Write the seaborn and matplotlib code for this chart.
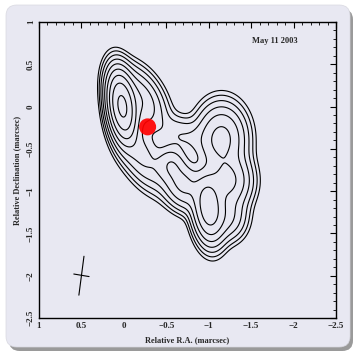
import numpy as np
import matplotlib
matplotlib.use("Agg")
import matplotlib.pyplot as plt
from matplotlib.patches import FancyBboxPatch
from matplotlib.ticker import MultipleLocator, FixedLocator
import seaborn as sns

# ---- data ----
# source model components: x, y (marcsec), amplitude, sigma major, sigma minor, PA (deg)
comp_x = [0.02, -0.18, -0.20, -0.55, -0.70, -1.15, -1.23, -1.00, -0.70, -1.22]
comp_y = [0.00, 0.08, -0.55, -0.68, -0.35, -0.38, -0.88, -1.19, -0.92, -1.30]
comp_amp = [0.60, 0.06, 0.04, 0.05, 0.015, 0.08, 0.075, 0.20, 0.075, 0.035]
comp_smaj = [0.205, 0.22, 0.25, 0.12, 0.22, 0.21, 0.17, 0.21, 0.16, 0.15]
comp_smin = [0.08, 0.13, 0.12, 0.10, 0.12, 0.15, 0.14, 0.095, 0.12, 0.12]
comp_pa = [8, 30, 30, 0, 70, 0, 0, 5, 25, 0]
levels = [0.002 * 2 ** k for k in range(9)]

core_x = [-0.28]
core_y = [-0.24]
beam_major_x = [0.47, 0.53]
beam_major_y = [-1.77, -2.23]
beam_minor_x = [0.59, 0.41]
beam_minor_y = [-1.98, -2.01]
xticks = [1, 0.5, 0, -0.5, -1, -1.5, -2, -2.5]
yticks = [1, 0.5, 0, -0.5, -1, -1.5, -2, -2.5]
tick_labels = ["1", "0.5", "0", "\u22120.5", "\u22121", "\u22121.5", "\u22122", "\u22122.5"]
date_text = "May 11 2003"

# ---- figure ----
sns.set_style("white")
plt.rcParams["font.family"] = ["Liberation Serif", "DejaVu Serif"]
plt.rcParams["font.weight"] = "bold"

W, H = 357, 352
fig = plt.figure(figsize=(W / 100, H / 100), dpi=100)
fig.patch.set_facecolor("white")

bg = "#E8E8F2"
shadow = FancyBboxPatch((9 / W, 1 / H), 344 / W, 342 / H,
                        boxstyle="round,pad=0,rounding_size=0.03",
                        transform=fig.transFigure, facecolor="#9a9a9a",
                        edgecolor="none", zorder=-2)
box = FancyBboxPatch((6 / W, 5 / H), 344 / W, 342 / H,
                     boxstyle="round,pad=0,rounding_size=0.03",
                     transform=fig.transFigure, facecolor=bg,
                     edgecolor="#d8d8e0", linewidth=0.5, zorder=-1)
fig.patches.extend([shadow, box])

ax = fig.add_axes([39 / W, 1 - 318 / H, 297 / W, 296 / H])
ax.set_zorder(1)
ax.set_facecolor(bg)

gx = np.linspace(1.0, -2.5, 500)
gy = np.linspace(-2.5, 1.0, 500)
X, Y = np.meshgrid(gx, gy)
Z = np.zeros_like(X)
for cx, cy, a, smj, smn, pa in zip(comp_x, comp_y, comp_amp, comp_smaj, comp_smin, comp_pa):
    t = np.deg2rad(pa)
    dx, dy = X - cx, Y - cy
    u = dx * np.sin(t) + dy * np.cos(t)
    v = dx * np.cos(t) - dy * np.sin(t)
    Z += a * np.exp(-0.5 * ((u / smj) ** 2 + (v / smn) ** 2))

ax.contour(X, Y, Z, levels=levels, colors="black", linewidths=0.8)

sns.scatterplot(x=core_x, y=core_y, ax=ax, color="red", s=150, alpha=0.92,
                edgecolor="none", zorder=5)
sns.lineplot(x=beam_major_x, y=beam_major_y, ax=ax, color="black", lw=0.8,
             sort=False, estimator=None)
sns.lineplot(x=beam_minor_x, y=beam_minor_y, ax=ax, color="black", lw=0.8,
             sort=False, estimator=None)

ax.set_xlim(1, -2.5)
ax.set_ylim(-2.5, 1)
ax.xaxis.set_major_locator(FixedLocator(xticks))
ax.yaxis.set_major_locator(FixedLocator(yticks))
ax.set_xticklabels(tick_labels, fontsize=6.5, fontweight="bold")
ax.set_yticklabels(tick_labels, fontsize=6.5, fontweight="bold", rotation=90, va="center")
ax.xaxis.set_minor_locator(MultipleLocator(0.1))
ax.yaxis.set_minor_locator(MultipleLocator(0.1))
ax.tick_params(which="both", direction="in", top=True, right=True, color="black")
ax.tick_params(which="major", length=4, width=0.8, pad=3)
ax.tick_params(which="minor", length=2, width=0.6)
for s in ax.spines.values():
    s.set_color("black")
    s.set_linewidth(1.0)

ax.set_xlabel("Relative R.A. (marcsec)", fontsize=6, fontweight="bold", labelpad=4)
ax.set_ylabel("Relative Declination (marcsec)", fontsize=6, fontweight="bold", labelpad=4)
ax.text(-1.78, 0.78, date_text, fontsize=6, fontweight="bold", ha="center", va="center")

fig.savefig("out.png", dpi=100)
